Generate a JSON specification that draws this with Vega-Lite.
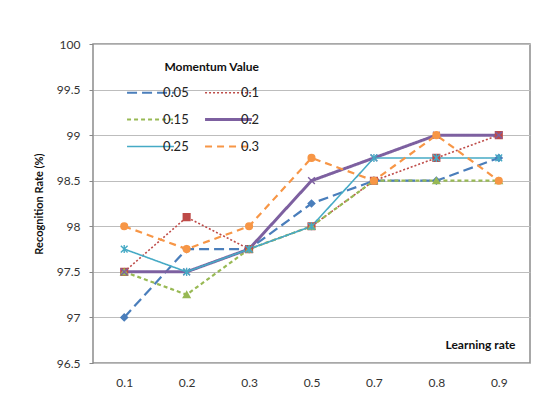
{
  "$schema": "https://vega.github.io/schema/vega-lite/v6.json",
  "width": 437,
  "height": 319,
  "autosize": {"type": "none"},
  "padding": {"left": 93, "top": 44, "right": 16, "bottom": 44},
  "background": "white",
  "data": {
    "values": [
      {"lr": "0.1", "m": "0.05", "mv": "0.05", "rate": 97.0},
      {"lr": "0.2", "m": "0.05", "mv": "0.05", "rate": 97.75},
      {"lr": "0.3", "m": "0.05", "mv": "0.05", "rate": 97.75},
      {"lr": "0.5", "m": "0.05", "mv": "0.05", "rate": 98.25},
      {"lr": "0.7", "m": "0.05", "mv": "0.05", "rate": 98.5},
      {"lr": "0.8", "m": "0.05", "mv": "0.05", "rate": 98.5},
      {"lr": "0.9", "m": "0.05", "mv": "0.05", "rate": 98.75},
      {"lr": "0.1", "m": "0.1", "mv": "0.1", "rate": 97.5},
      {"lr": "0.2", "m": "0.1", "mv": "0.1", "rate": 98.1},
      {"lr": "0.3", "m": "0.1", "mv": "0.1", "rate": 97.75},
      {"lr": "0.5", "m": "0.1", "mv": "0.1", "rate": 98.0},
      {"lr": "0.7", "m": "0.1", "mv": "0.1", "rate": 98.5},
      {"lr": "0.8", "m": "0.1", "mv": "0.1", "rate": 98.75},
      {"lr": "0.9", "m": "0.1", "mv": "0.1", "rate": 99.0},
      {"lr": "0.1", "m": "0.15", "mv": "0.15", "rate": 97.5},
      {"lr": "0.2", "m": "0.15", "mv": "0.15", "rate": 97.25},
      {"lr": "0.3", "m": "0.15", "mv": "0.15", "rate": 97.75},
      {"lr": "0.5", "m": "0.15", "mv": "0.15", "rate": 98.0},
      {"lr": "0.7", "m": "0.15", "mv": "0.15", "rate": 98.5},
      {"lr": "0.8", "m": "0.15", "mv": "0.15", "rate": 98.5},
      {"lr": "0.9", "m": "0.15", "mv": "0.15", "rate": 98.5},
      {"lr": "0.1", "m": "0.2", "mv": "0.2", "rate": 97.5},
      {"lr": "0.2", "m": "0.2", "mv": "0.2", "rate": 97.5},
      {"lr": "0.3", "m": "0.2", "mv": "0.2", "rate": 97.75},
      {"lr": "0.5", "m": "0.2", "mv": "0.2", "rate": 98.5},
      {"lr": "0.7", "m": "0.2", "mv": "0.2", "rate": 98.75},
      {"lr": "0.8", "m": "0.2", "mv": "0.2", "rate": 99.0},
      {"lr": "0.9", "m": "0.2", "mv": "0.2", "rate": 99.0},
      {"lr": "0.1", "m": "0.25", "mv": "0.25", "rate": 97.75},
      {"lr": "0.2", "m": "0.25", "mv": "0.25", "rate": 97.5},
      {"lr": "0.3", "m": "0.25", "mv": "0.25", "rate": 97.75},
      {"lr": "0.5", "m": "0.25", "mv": "0.25", "rate": 98.0},
      {"lr": "0.7", "m": "0.25", "mv": "0.25", "rate": 98.75},
      {"lr": "0.8", "m": "0.25", "mv": "0.25", "rate": 98.75},
      {"lr": "0.9", "m": "0.25", "mv": "0.25", "rate": 98.75},
      {"lr": "0.1", "m": "0.3", "mv": "0.3", "rate": 98.0},
      {"lr": "0.2", "m": "0.3", "mv": "0.3", "rate": 97.75},
      {"lr": "0.3", "m": "0.3", "mv": "0.3", "rate": 98.0},
      {"lr": "0.5", "m": "0.3", "mv": "0.3", "rate": 98.75},
      {"lr": "0.7", "m": "0.3", "mv": "0.3", "rate": 98.5},
      {"lr": "0.8", "m": "0.3", "mv": "0.3", "rate": 99.0},
      {"lr": "0.9", "m": "0.3", "mv": "0.3", "rate": 98.5}
    ]
  },
  "encoding": {
    "x": {
      "field": "lr", "type": "ordinal",
      "scale": {"type": "point", "padding": 0.5},
      "axis": {
        "title": "Learning rate", "labelAngle": 0, "ticks": false, "domain": false,
        "labelPadding": 14, "labelFont": "Lato", "labelFontSize": 12, "labelColor": "#333",
        "titleFont": "Lato", "titleFontSize": 12, "titleFontWeight": "bold", "titleColor": "#111",
        "titleAnchor": "end", "titleX": 422, "titleY": -19, "titleBaseline": "middle"
      }
    },
    "y": {
      "field": "rate", "type": "quantitative",
      "scale": {"domain": [96.5, 100], "zero": false, "nice": false},
      "axis": {
        "title": "Recognition Rate (%)", "values": [96.5, 97, 97.5, 98, 98.5, 99, 99.5, 100],
        "format": "~g", "domain": false, "tickSize": 4, "tickColor": "#888",
        "labelPadding": 9, "labelFont": "Lato", "labelFontSize": 12, "labelColor": "#333",
        "gridColor": "#bdbdbd", "gridWidth": 1.2,
        "titleFont": "Lato", "titleFontSize": 11, "titleFontWeight": "bold", "titleColor": "#111",
        "titlePadding": 12
      }
    }
  },
  "layer": [
    {
      "mark": {"type": "line"},
      "encoding": {
        "color": {
          "field": "m", "type": "nominal",
          "scale": {"domain": ["0.05", "0.15", "0.25", "0.1", "0.2", "0.3"],
                    "range": ["#4A7EBB", "#98B954", "#46AAC5", "#BE4B48", "#7D60A0", "#F79646"]},
          "legend": {
            "title": "Momentum Value", "orient": "none", "legendX": 51, "legendY": 18,
            "columns": 2, "columnPadding": 10, "rowPadding": 13,
            "symbolType": "stroke", "symbolSize": 2200,
            "titleFont": "Lato", "titleFontSize": 12, "titleFontWeight": "bold", "titleColor": "#111",
            "titlePadding": 12, "titleAnchor": "end",
            "labelFont": "Lato", "labelFontSize": 13, "labelColor": "#222", "labelOffset": 6,
            "encode": {
              "symbols": {
                "update": {
                  "strokeWidth": {"signal": "datum.value === '0.2' ? 3 : (datum.value === '0.25' || datum.value === '0.1') ? 1.6 : 2.2"}
                }
              }
            }
          }
        },
        "strokeDash": {
          "field": "m", "type": "nominal",
          "scale": {"domain": ["0.05", "0.15", "0.25", "0.1", "0.2", "0.3"],
                    "range": [[10, 5], [4, 3], [1, 0], [2, 2], [1, 0], [7, 5]]}
        },
        "strokeWidth": {
          "condition": [
            {"test": "datum.m === '0.2'", "value": 3},
            {"test": "datum.m === '0.25' || datum.m === '0.1'", "value": 1.6}
          ],
          "value": 2.2
        }
      }
    },
    {
      "mark": {"type": "point", "filled": true, "size": 45, "strokeWidth": 1.4, "opacity": 1},
      "encoding": {
        "fill": {
          "field": "mv", "type": "nominal", "legend": null,
          "scale": {"range": ["#4A7EBB", "#BE4B48", "#98B954", "#7D60A0", "#46AAC5", "#F79646"]}
        },
        "stroke": {
          "field": "mv", "type": "nominal", "legend": null,
          "scale": {"range": ["#4A7EBB", "#BE4B48", "#98B954", "#7D60A0", "#46AAC5", "#F79646"]}
        },
        "shape": {
          "field": "mv", "type": "nominal", "legend": null,
          "scale": {"range": ["diamond", "square", "triangle-up", "M-1,-1L1,1M-1,1L1,-1", "M-1,-1L1,1M-1,1L1,-1M0,-1.2L0,1.2", "circle"]}
        }
      }
    }
  ],
  "config": {
    "view": {"stroke": "#8c8c8c", "strokeWidth": 1.5},
    "axis": {"gridColor": "#bdbdbd"}
  }
}
